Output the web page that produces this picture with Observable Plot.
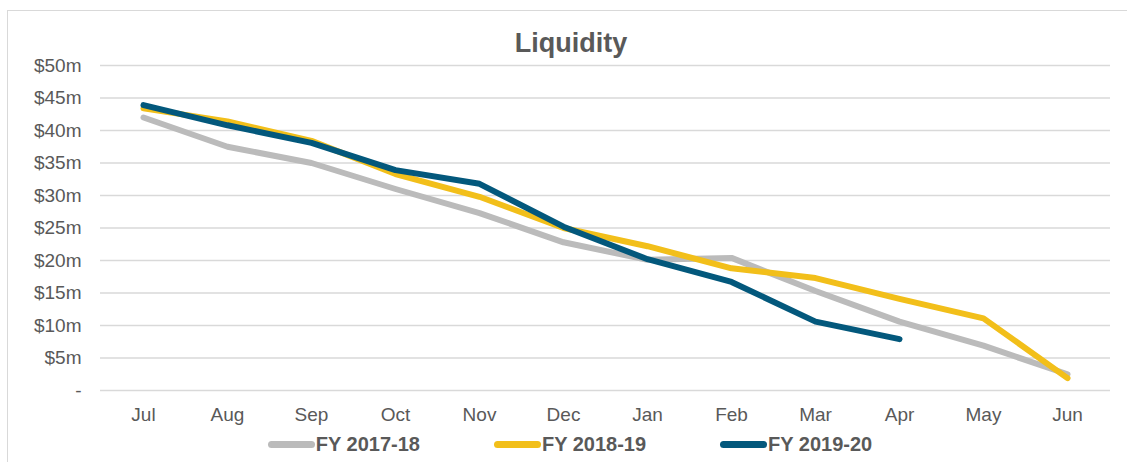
<!DOCTYPE html>
<html>
<head>
<meta charset="utf-8">
<script src="https://cdn.jsdelivr.net/npm/d3@7"></script>
<script src="https://cdn.jsdelivr.net/npm/@observablehq/plot@0.6"></script>
<style>
  html, body { margin: 0; padding: 0; background: #fff; }
  #wrap { position: relative; width: 1127px; height: 462px; overflow: hidden; font-family: "Liberation Sans", Arial, sans-serif; }
  #frame { position: absolute; left: 7px; top: 10px; width: 1130px; height: 470px; border-left: 1px solid #d9d9d9; border-top: 1px solid #d9d9d9; box-sizing: border-box; }
  #title { position: absolute; left: 0; width: 1142px; top: 30px; text-align: center; font-size: 27px; line-height: 27px; font-weight: bold; color: #595959; }
  #chart { position: absolute; left: 0; top: 0; }
  #legend { position: absolute; top: 434px; left: 0; width: 1140px; text-align: center; font-size: 20px; line-height: 20px; font-weight: bold; color: #595959; white-space: nowrap; }
  .item { display: inline-block; margin: 0 37px; }
  .sw { display: inline-block; width: 47px; height: 7px; border-radius: 4px; vertical-align: middle; margin-right: 1px; position: relative; top: -1px; }
</style>
</head>
<body>
<div id="wrap">
  <div id="frame"></div>
  <div id="chart"></div>
  <div id="title">Liquidity</div>
  <div id="legend"></div>
</div>
<script>
const months = ["Jul","Aug","Sep","Oct","Nov","Dec","Jan","Feb","Mar","Apr","May","Jun"];
const seriesNames = ["FY 2017-18","FY 2018-19","FY 2019-20"];
const seriesColors = ["#bbbbbb","#f2bf1a","#03587c"];
const fy1718 = [42.0, 37.5, 35.0, 31.0, 27.3, 22.8, 20.1, 20.4, 15.3, 10.6, 6.9, 2.5];
const fy1819 = [43.4, 41.4, 38.4, 33.3, 29.8, 25.0, 22.2, 18.8, 17.3, 14.1, 11.1, 1.9];
const fy1920 = [43.9, 40.8, 38.1, 33.9, 31.8, 25.2, 20.2, 16.7, 10.6, 7.9];
const yTicks = [0,5,10,15,20,25,30,35,40,45,50];

const seriesValues = [fy1718, fy1819, fy1920];
const rows = [];
seriesNames.forEach((name, i) => {
  seriesValues[i].forEach((v, j) => rows.push({series: name, month: months[j], value: v}));
});

const plot = Plot.plot({
  width: 1127,
  height: 430,
  marginTop: 65,
  marginBottom: 40,
  marginLeft: 100,
  marginRight: 17,
  style: { fontFamily: '"Liberation Sans", Arial, sans-serif', fontSize: "19px", color: "#595959", background: "transparent" },
  x: { type: "point", domain: months, padding: 0.5, label: null },
  y: { domain: [0, 50], label: null },
  color: { domain: seriesNames, range: seriesColors },
  marks: [
    Plot.ruleY(yTicks, { stroke: "#d9d9d9", strokeWidth: 1.5 }),
    Plot.axisY({ ticks: yTicks, tickSize: 0, tickPadding: 19, tickFormat: d => d === 0 ? "-" : `$${d}m`, label: null, fill: "#595959", fontSize: 19 }),
    Plot.axisX({ tickSize: 0, tickPadding: 17, label: null, fill: "#595959", fontSize: 19 }),
    Plot.line(rows, { x: "month", y: "value", z: "series", stroke: "series", strokeWidth: 6, strokeLinecap: "round", strokeLinejoin: "round" })
  ]
});
document.getElementById("chart").appendChild(plot);

const legend = document.getElementById("legend");
seriesNames.forEach((name, i) => {
  const item = document.createElement("span");
  item.className = "item";
  const sw = document.createElement("span");
  sw.className = "sw";
  sw.style.background = seriesColors[i];
  item.appendChild(sw);
  item.appendChild(document.createTextNode(name));
  legend.appendChild(item);
});
</script>
</body>
</html>
